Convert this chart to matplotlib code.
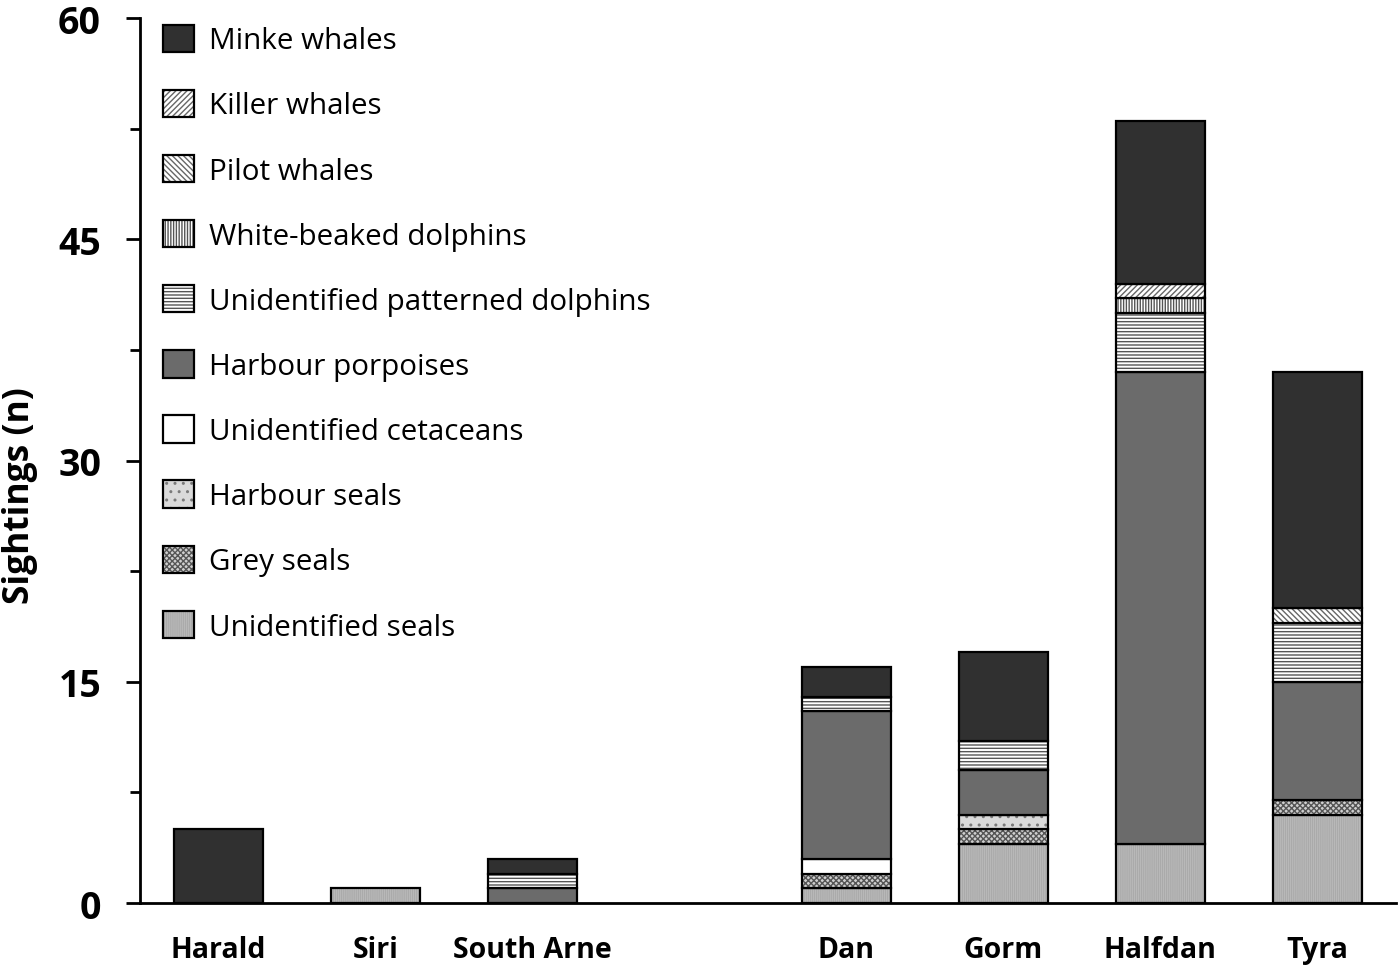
import matplotlib
matplotlib.use("Agg")
import matplotlib.pyplot as plt
import numpy as np
from matplotlib.ticker import MultipleLocator
from matplotlib.legend_handler import HandlerTuple

plt.rcParams['font.family'] = ['Open Sans', 'DejaVu Sans']
plt.rcParams['hatch.linewidth'] = 1.0

sites = ["Harald", "Siri", "South Arne", "", "Dan", "Gorm", "Halfdan", "Tyra"]

# stacking order bottom -> top
species = ["Unidentified seals", "Grey seals", "Harbour seals", "Unidentified cetaceans",
           "Harbour porpoises", "Unidentified patterned dolphins", "White-beaked dolphins",
           "Pilot whales", "Killer whales", "Minke whales"]

unid_seals      = [0, 1, 0, 0, 1, 4, 4, 6]
grey_seals      = [0, 0, 0, 0, 1, 1, 0, 1]
harbour_seals   = [0, 0, 0, 0, 0, 1, 0, 0]
unid_cetaceans  = [0, 0, 0, 0, 1, 0, 0, 0]
harbour_porp    = [0, 0, 1, 0, 10, 3, 32, 8]
patterned_dolph = [0, 0, 1, 0, 1, 2, 4, 4]
white_beaked    = [0, 0, 0, 0, 0, 0, 1, 0]
pilot_whales    = [0, 0, 0, 0, 0, 0, 0, 1]
killer_whales   = [0, 0, 0, 0, 0, 0, 1, 0]
minke_whales    = [5, 0, 1, 0, 2, 6, 11, 16]

series = [unid_seals, grey_seals, harbour_seals, unid_cetaceans, harbour_porp,
          patterned_dolph, white_beaked, pilot_whales, killer_whales, minke_whales]

# (facecolor, hatch, hatch colour)
styles = [
    ("#a4a4a4", "||||||||", "#b8b8b8"),
    ("#cfcfcf", "xxxxxx", "#555555"),
    ("#dadada", "..", "#7a7a7a"),
    ("#ffffff", None, None),
    ("#6b6b6b", None, None),
    ("#ffffff", "-----", "#555555"),
    ("#ffffff", "||||||", "#555555"),
    ("#ffffff", "\\\\\\\\\\\\", "#666666"),
    ("#ffffff", "//////", "#666666"),
    ("#303030", None, None),
]

fig = plt.figure(figsize=(14, 9.7), dpi=100)
ax = fig.add_axes([0.1, 0.068, 0.897, 0.9124])

x = np.arange(len(sites))
bottom = np.zeros(len(sites))
handles = []
W = 0.57
for name, vals, (fc, hatch, hc) in zip(species, series, styles):
    vals = np.array(vals, dtype=float)
    m = vals > 0
    if hatch:
        fill = ax.bar(x[m], vals[m], width=W, bottom=bottom[m], color=fc,
                      hatch=hatch, edgecolor=hc, linewidth=0)
    else:
        fill = ax.bar(x[m], vals[m], width=W, bottom=bottom[m], color=fc,
                      linewidth=0)
    outline = ax.bar(x[m], vals[m], width=W, bottom=bottom[m], fill=False,
                     edgecolor="black", linewidth=1.6)
    handles.append((fill, outline))
    bottom += vals

ax.set_xlim(-0.5, 7.5)
ax.set_ylim(0, 60)
ax.yaxis.set_major_locator(MultipleLocator(15))
ax.yaxis.set_minor_locator(MultipleLocator(7.5))
ax.set_xticks(x)
ax.set_xticklabels(sites, fontsize=20.5, fontweight="bold")
ax.tick_params(axis="x", length=0, pad=23)
ax.tick_params(axis="y", which="major", direction="out", length=10, width=2,
               labelsize=27, pad=18)
ax.tick_params(axis="y", which="minor", direction="out", length=7, width=2)
for lab in ax.get_yticklabels():
    lab.set_fontweight("bold")
ax.set_ylabel("Sightings (n)", fontsize=25.5, fontweight="bold")
ax.yaxis.set_label_coords(-0.081, 0.461)

for s in ["top", "right"]:
    ax.spines[s].set_visible(False)
ax.spines["left"].set_linewidth(2)
ax.spines["bottom"].set_linewidth(2)

leg = ax.legend(handles[::-1], species[::-1], loc="upper left",
                handler_map={tuple: HandlerTuple(ndivide=1, pad=0)},
                bbox_to_anchor=(0.009, 1.006), frameon=False, fontsize=21.3,
                handlelength=1.05, handleheight=1.05, labelspacing=1.16,
                handletextpad=0.5, borderaxespad=0)

fig.savefig("out.png", dpi=100)
